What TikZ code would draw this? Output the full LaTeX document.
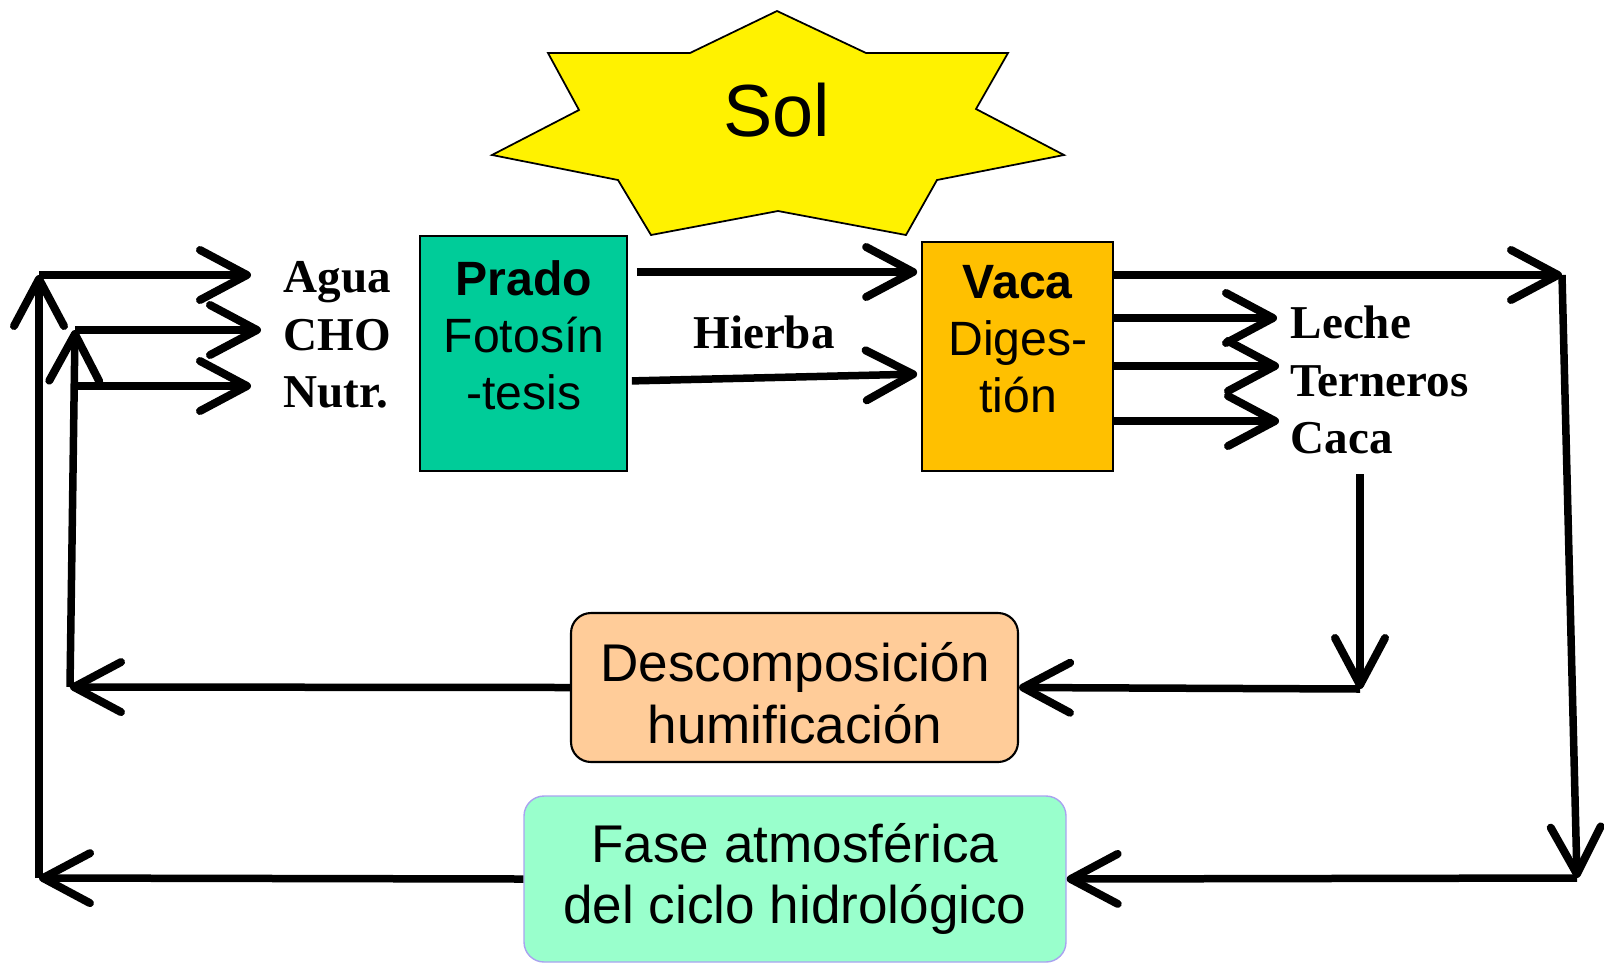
\documentclass[tikz,border=0pt]{standalone}
\usepackage{fontspec}
\setmainfont{Liberation Serif}
\newfontfamily\arialfont{Liberation Sans}
\usetikzlibrary{arrows.meta}
\definecolor{pradogreen}{HTML}{00CC99}
\definecolor{vacaorange}{HTML}{FFC000}
\definecolor{descpeach}{HTML}{FFCC99}
\definecolor{fasemint}{HTML}{99FFCC}
\definecolor{faselilac}{HTML}{A9A3F0}
\tikzstyle{stage} = [
  draw,
  rectangle,
  line width=0.5pt,
]
\tikzstyle{stagetext} = [
  font=\arialfont\fontsize{13.7}{16.2}\selectfont,
  align=center,
]
\tikzstyle{phase} = [
  draw,
  rectangle,
  rounded corners=2mm,
  align=center,
  font=\arialfont\fontsize{15.1}{17.5}\selectfont,
]
\tikzstyle{product} = [
  font=\bfseries\fontsize{13.4}{16}\selectfont,
  inner sep=0pt,
  anchor=base west,
]
\tikzstyle{flow} = [
  line width=0.75mm,
  -{Straight Barb[length=4.7mm,width=5mm,line width=0.8mm,round]},
]
\begin{document}
\begin{tikzpicture}[
    auto,
    x=0.1mm,
    y=-0.1mm,
  ]
  \useasboundingbox (0,0) rectangle (1604,963);
  % the sun
  \filldraw[fill=yellow, draw=black, line width=0.5pt]
    (777,11) -- (866,53) -- (1008,53) -- (976,109) -- (1064,155)
    -- (937,180) -- (906,235) -- (778,211) -- (651,235) -- (618,180)
    -- (492,155) -- (579,110) -- (548,53) -- (690,53) -- cycle;
  \node[
    font=\arialfont\fontsize{21}{25}\selectfont,
  ](sol) at (777,110) {Sol};
  % boxes
  \node[
    stage,
    fill=pradogreen,
    minimum width=20.7mm,
    minimum height=23.5mm,
  ](prado) at (523.5,353.5) {};
  \node[stagetext](pradotext) at (524,335) {\textbf{Prado}\\Fotosín\\-tesis};
  \node[
    stage,
    fill=vacaorange,
    minimum width=19.1mm,
    minimum height=22.9mm,
  ](vaca) at (1017.5,356.5) {};
  \node[stagetext](vacatext) at (1018,339) {\textbf{Vaca}\\Diges-\\tión};
  \node[
    phase,
    fill=descpeach,
    line width=0.6pt,
    minimum width=44.7mm,
    minimum height=14.9mm,
  ](desc) at (794.5,687.5) {};
  \node[stagetext, font=\arialfont\fontsize{15.1}{17.5}\selectfont](desctext) at (795,693) {Descomposición\\humificación};
  \node[
    phase,
    fill=fasemint,
    draw=faselilac,
    minimum width=54.2mm,
    minimum height=16.6mm,
  ](fase) at (795,879) {Fase atmosférica\\del ciclo hidrológico};
  % labels
  \node[product](agua) at (283,292) {Agua};
  \node[product](cho) at (283,350) {CHO};
  \node[product](nutr) at (283,407) {Nutr.};
  \node[product, anchor=base](hierba) at (764,348) {Hierba};
  \node[product](leche) at (1290,338) {Leche};
  \node[product](terneros) at (1290,396) {Terneros};
  \node[product](caca) at (1290,453) {Caca};
  % corners
  \coordinate (outtop) at (39,275);
  \coordinate (outbot) at (39,878);
  \coordinate (intop) at (75,330);
  \coordinate (innutr) at (75,386);
  \coordinate (inbot) at (70,687);
  \coordinate (rtop) at (1562,275);
  \coordinate (rbot) at (1577,878);
  \coordinate (cacaturn) at (1360,689);
  % flows
  \path [flow] (fase.west) edge (outbot);
  \path [flow] (outbot) edge (outtop);
  \path [flow, shorten >=3.2mm] (outtop) edge (outtop -| agua.west);
  \path [flow] (desc.west) edge (inbot);
  \path [flow] (inbot) edge (intop);
  \path [flow, shorten >=2.2mm] (intop) edge (intop -| cho.west);
  \path [flow, shorten >=3.2mm] (innutr) edge (innutr -| nutr.west);
  \path [flow, shorten <=0.9mm, shorten >=0.4mm] (prado.east |- 0,272) edge (vaca.west |- 0,272);
  \path [flow, shorten <=0.4mm, shorten >=0.4mm] (prado.east |- 0,381) edge (vaca.west |- 0,374);
  \path [flow] (vaca.east |- rtop) edge (rtop);
  \path [flow] (rtop) edge (rbot);
  \path [flow] (rbot) edge (fase.east);
  \path [flow, shorten >=1.3mm] (vaca.east |- 0,318) edge (leche.west |- 0,318);
  \path [flow, shorten >=1.1mm] (vaca.east |- 0,366) edge (terneros.west |- 0,366);
  \path [flow, shorten >=1.1mm] (vaca.east |- 0,421) edge (caca.west |- 0,421);
  \path [flow, shorten <=2mm] (caca.south -| cacaturn) edge (cacaturn);
  \path [flow] (cacaturn) edge (desc.east);
\end{tikzpicture}
\end{document}
